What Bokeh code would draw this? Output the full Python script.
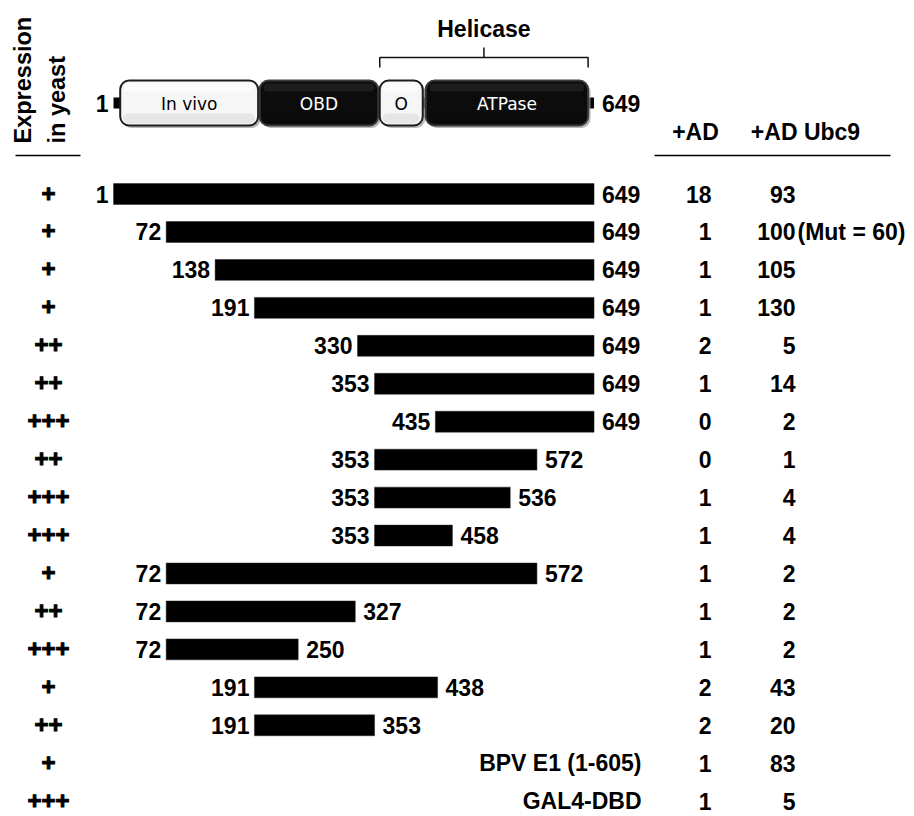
import math

from bokeh.plotting import figure
from bokeh.models import Range1d
from bokeh.core.properties import value
from bokeh.embed import file_html
from bokeh.resources import INLINE

# ---- data -----------------------------------------------------------------
expression = ["+", "+", "+", "+", "++", "++", "+++", "++", "+++", "+++",
              "+", "++", "+++", "+", "++", "+", "+++"]
frag_start = [1, 72, 138, 191, 330, 353, 435, 353, 353, 353, 72, 72, 72, 191, 191]
frag_end = [649, 649, 649, 649, 649, 649, 649, 572, 536, 458, 572, 327, 250, 438, 353]
controls = ["BPV E1 (1-605)", "GAL4-DBD"]
ad_counts = [18, 1, 1, 1, 2, 1, 0, 0, 1, 1, 1, 1, 1, 2, 2, 1, 1]
ubc9_counts = [93, 100, 105, 130, 5, 14, 2, 1, 4, 4, 2, 2, 2, 43, 20, 83, 5]
ubc9_note_row = 1
ubc9_note = "(Mut = 60)"

protein_length = 649
domain_names = ["In vivo", "OBD", "O", "ATPase"]
domain_start = [10, 198, 360, 422]
domain_end = [196, 358, 418, 641]
domain_dark = [False, True, False, True]
helicase_start, helicase_end = 360, 641

# ---- layout ---------------------------------------------------------------
W, H = 914, 816
X0, XS = 112.3, 0.7415      # pixel of residue 0, pixels per residue
Y0, YS = 193.5, 37.95       # pixel of first row, pixels per row


def cx(px):
    return (px - X0) / XS


def ry(py):
    return (py - Y0) / YS


BOLD = value("Liberation Sans")
FS = "23px"

p = figure(width=W, height=H,
           x_range=Range1d(cx(0), cx(W)), y_range=Range1d(ry(H), ry(0)),
           output_backend="svg", toolbar_location=None,
           x_axis_location=None, y_axis_location=None, min_border=0)
p.grid.visible = False
p.outline_line_color = None
p.background_fill_color = "white"
p.border_fill_color = "white"


def label(x, y, text, align="center", size=FS, style="bold", color="black",
          font=BOLD, **kw):
    p.text(x=x, y=y, text=text, text_align=align, text_baseline="middle",
           text_font=font, text_font_style=style, text_font_size=size,
           text_color=color, **kw)


# ---- fragment bars --------------------------------------------------------
rows = list(range(len(frag_start)))
p.hbar(y=rows, left=frag_start, right=frag_end, height=0.55,
       fill_color="black", line_color="#222222", line_width=0.5)
label(frag_start, rows, [str(s) for s in frag_start], align="right", x_offset=-5)
label(frag_end, rows, [str(e) for e in frag_end], align="left", x_offset=8)

ctrl_rows = [len(frag_start) + i for i in range(len(controls))]
label([cx(641)] * len(controls), ctrl_rows, controls, align="right")

# ---- columns --------------------------------------------------------------
all_rows = list(range(len(expression)))
label([cx(48)] * len(all_rows), all_rows, expression, size="24px",
      text_outline_color="black", y_offset=-1)
label([cx(711)] * len(all_rows), all_rows, [str(v) for v in ad_counts], align="right")
label([cx(795)] * len(all_rows), all_rows, [str(v) for v in ubc9_counts], align="right")
label([cx(797)], [ubc9_note_row], [ubc9_note], align="left")

# ---- column headers -------------------------------------------------------
label([cx(22)], [ry(143)], ["Expression"], align="left", size="23.5px",
      angle=math.pi / 2)
label([cx(56)], [ry(143)], ["in yeast"], align="left", size="23.5px",
      angle=math.pi / 2)
p.line([cx(15), cx(80)], [ry(155), ry(155)], line_color="black", line_width=1.5)

label([cx(695)], [ry(131)], ["+AD"])
label([cx(805)], [ry(131)], ["+AD Ubc9"])
p.line([cx(654), cx(890)], [ry(155), ry(155)], line_color="black", line_width=1.5)

# ---- domain map -----------------------------------------------------------
bb_top, bb_bot = ry(97), ry(108)
p.quad(left=[1], right=[protein_length], top=[bb_top], bottom=[bb_bot],
       fill_color="black", line_color=None)

box_top, box_bot = ry(80), ry(125)
sx, sy = 2.5 / XS, 2.5 / YS
p.quad(left=[s + sx for s in domain_start], right=[e + sx for e in domain_end],
       top=[box_top + sy] * 4, bottom=[box_bot + sy] * 4,
       fill_color="#9a9a9a", fill_alpha=0.7, line_color=None, border_radius=9)
p.quad(left=domain_start, right=domain_end,
       top=[box_top] * 4, bottom=[box_bot] * 4,
       fill_color=["#0c0c0c" if d else "#f6f6f6" for d in domain_dark],
       line_color=["#3a3a3a" if d else "#1c1c1c" for d in domain_dark],
       line_width=2, border_radius=9)
# soft shading near the bottom of the light boxes, highlight on the dark ones
p.quad(left=[s + 3 / XS for s in domain_start], right=[e - 3 / XS for e in domain_end],
       top=[box_bot - 12 / YS] * 4, bottom=[box_bot - 2 / YS] * 4,
       fill_color=["#0c0c0c" if d else "#dcdcdc" for d in domain_dark],
       fill_alpha=0.6, line_color=None, border_radius=6)
p.quad(left=[s + 4 / XS for s in domain_start], right=[e - 4 / XS for e in domain_end],
       top=[box_top + 3 / YS] * 4, bottom=[box_top + 11 / YS] * 4,
       fill_color=["#2a2a2a" if d else "#ffffff" for d in domain_dark],
       fill_alpha=0.6, line_color=None, border_radius=5)

dom_mid = [(s + e) / 2 for s, e in zip(domain_start, domain_end)]
label(dom_mid, [ry(103)] * 4, domain_names, size="17px", style="normal",
      font=value("DejaVu Sans"),
      color=["white" if d else "black" for d in domain_dark])

label([1], [ry(103)], ["1"], align="right", x_offset=-5)
label([protein_length], [ry(103)], [str(protein_length)], align="left", x_offset=8)

# ---- helicase bracket -----------------------------------------------------
hmid = (helicase_start + helicase_end) / 2
p.multi_line(
    xs=[[helicase_start, helicase_start, helicase_end, helicase_end], [hmid, hmid]],
    ys=[[ry(67), ry(57), ry(57), ry(67)], [ry(57), ry(47)]],
    line_color="#111111", line_width=1.5)
label([hmid], [ry(28)], ["Helicase"])

open("out.html", "w").write(file_html(p, INLINE))
